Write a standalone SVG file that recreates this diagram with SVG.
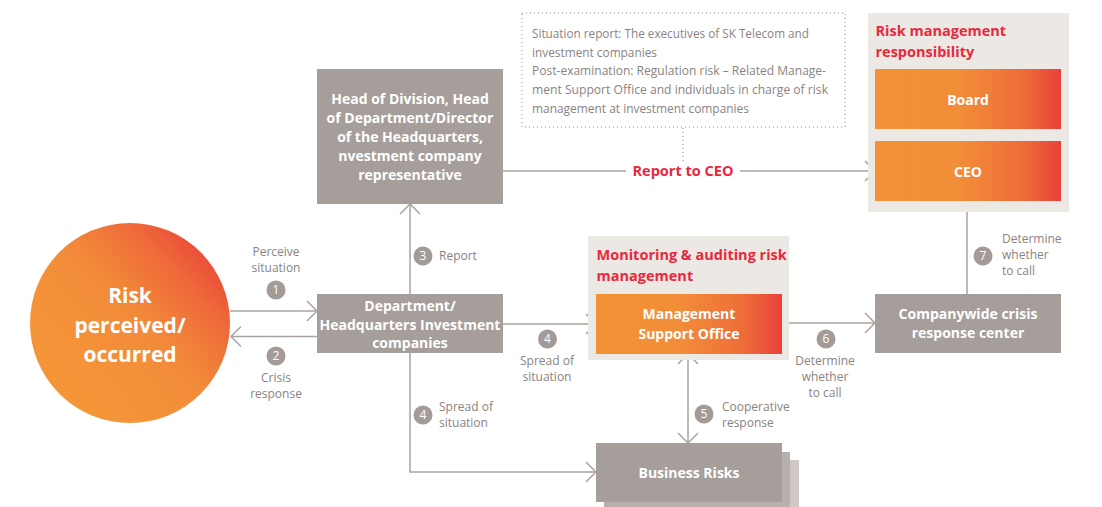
<svg xmlns="http://www.w3.org/2000/svg" width="1102" height="507" viewBox="0 0 1102 507">
<style>
.box{fill:#a59e9a}
.panel{fill:#ece8e4}
.bt{font-family:"Open Sans","Liberation Sans",sans-serif;font-weight:700;font-size:14px;fill:#fff;text-anchor:middle}
.rt{font-family:"Open Sans","Liberation Sans",sans-serif;font-weight:700;font-size:14.5px;fill:#e8283d}
.lb{font-family:"Open Sans","Liberation Sans",sans-serif;font-size:12px;fill:#8a8381}
.mid{text-anchor:middle}
.num{fill:#a39b97}
.nt{font-family:"Open Sans","Liberation Sans",sans-serif;font-size:12px;fill:#fff;text-anchor:middle}
.ln{fill:none;stroke:#aaa3a0;stroke-width:1.5}
.note{font-family:"Open Sans","Liberation Sans",sans-serif;font-size:12px;fill:#8a8381}
</style>
<defs>
<linearGradient id="og" x1="0" y1="0" x2="1" y2="0">
<stop offset="0" stop-color="#f39237"/>
<stop offset="0.45" stop-color="#f28d38"/>
<stop offset="0.8" stop-color="#ee6c38"/>
<stop offset="1" stop-color="#e8413a"/>
</linearGradient>
<linearGradient id="cg" x1="0.25" y1="0.8" x2="0.95" y2="0.15">
<stop offset="0" stop-color="#f5953a"/>
<stop offset="0.45" stop-color="#f28b39"/>
<stop offset="0.75" stop-color="#ef6b39"/>
<stop offset="1" stop-color="#e8453a"/>
</linearGradient>
<marker id="ar" markerUnits="userSpaceOnUse" viewBox="0 0 12 22" refX="11" refY="11" markerWidth="12" markerHeight="22" orient="auto-start-reverse">
<path d="M1,1 L11,11 L1,21" fill="none" stroke="#aaa3a0" stroke-width="1.5"/>
</marker>
</defs>
<rect width="1102" height="507" fill="#fff"/>

<g id="connectors">
<path class="ln" d="M230,311 H317" marker-end="url(#ar)"/>
<path class="ln" d="M317,336.5 H231" marker-end="url(#ar)"/>
<path class="ln" d="M410,294 V204" marker-end="url(#ar)"/>
<path class="ln" d="M503,324 H596" marker-end="url(#ar)"/>
<path class="ln" d="M410,353 V472 H596" marker-end="url(#ar)"/>
<path class="ln" d="M688,354 V443" marker-start="url(#ar)" marker-end="url(#ar)"/>
<path class="ln" d="M782,323 H875" marker-end="url(#ar)"/>
<path class="ln" d="M967,294 V201" marker-end="url(#ar)"/>
<path class="ln" d="M503,171 H626"/>
<path class="ln" d="M740,171 H875" marker-end="url(#ar)"/>
<path d="M683,128 V163" fill="none" stroke="#8f8885" stroke-width="1" stroke-dasharray="1 3"/>
<text class="rt mid" x="683" y="176">Report to CEO</text>
</g>

<g id="note">
<rect x="522" y="13" width="323" height="114" fill="none" stroke="#8f8885" stroke-width="1" stroke-dasharray="1 3"/>
<text class="note" x="532" y="38" textLength="277" lengthAdjust="spacingAndGlyphs">Situation report: The executives of SK Telecom and</text>
<text class="note" x="532" y="57" textLength="125" lengthAdjust="spacingAndGlyphs">investment companies</text>
<text class="note" x="532" y="75" textLength="294" lengthAdjust="spacingAndGlyphs">Post-examination: Regulation risk – Related Manage-</text>
<text class="note" x="532" y="94" textLength="296" lengthAdjust="spacingAndGlyphs">ment Support Office and individuals in charge of risk</text>
<text class="note" x="532" y="113" textLength="217" lengthAdjust="spacingAndGlyphs">management at investment companies</text>
</g>

<g id="risk">
<circle cx="130" cy="323" r="100" fill="url(#cg)"/>
<text class="bt" font-size="21" style="font-size:21px" x="130" y="303">Risk</text>
<text class="bt" style="font-size:21px" x="130" y="333">perceived/</text>
<text class="bt" style="font-size:21px" x="130" y="362">occurred</text>
</g>

<g id="head">
<rect class="box" x="317" y="69" width="186" height="135"/>
<text class="bt" x="410" y="104">Head of Division, Head</text>
<text class="bt" x="410" y="123">of Department/Director</text>
<text class="bt" x="410" y="142">of the Headquarters,</text>
<text class="bt" x="410" y="161">nvestment company</text>
<text class="bt" x="410" y="180">representative</text>
</g>

<g id="dept">
<rect class="box" x="317" y="294" width="186" height="59"/>
<text class="bt" x="410" y="310.5">Department/</text>
<text class="bt" x="410" y="329.5">Headquarters Investment</text>
<text class="bt" x="410" y="348">companies</text>
</g>

<g id="responsibility">
<rect class="panel" x="868" y="13" width="201" height="199"/>
<text class="rt" x="875.5" y="36">Risk management</text>
<text class="rt" x="875.5" y="57">responsibility</text>
</g>

<g id="board">
<rect x="875" y="69" width="186" height="60" fill="url(#og)"/>
<text class="bt" x="968" y="104.5">Board</text>
</g>

<g id="ceo">
<rect x="875" y="141" width="186" height="60" fill="url(#og)"/>
<text class="bt" x="968" y="176.5">CEO</text>
</g>

<g id="monitoring">
<rect class="panel" x="588" y="236" width="201" height="124"/>
<text class="rt" x="596.5" y="260">Monitoring &amp; auditing risk</text>
<text class="rt" x="596.5" y="281">management</text>
</g>

<g id="mso">
<rect x="596" y="294" width="186" height="60" fill="url(#og)"/>
<text class="bt" x="689" y="319">Management</text>
<text class="bt" x="689" y="338.5">Support Office</text>
</g>

<g id="crisis-center">
<rect class="box" x="875" y="294" width="186" height="59"/>
<text class="bt" x="968" y="319">Companywide crisis</text>
<text class="bt" x="968" y="338">response center</text>
</g>

<g id="business">
<rect x="612" y="460" width="187" height="50" fill="#d0cac7"/>
<rect x="604" y="452" width="186" height="58" fill="#b8b0ac"/>
<rect class="box" x="596" y="443" width="186" height="59"/>
<text class="bt" x="689" y="478">Business Risks</text>
</g>

<g id="labels">
<text class="lb mid" x="276" y="256">Perceive</text>
<text class="lb mid" x="276" y="272">situation</text>
<circle class="num" cx="276" cy="290" r="9.5"/><text class="nt" x="276" y="294.3">1</text>

<circle class="num" cx="276" cy="356" r="9.5"/><text class="nt" x="276" y="360.3">2</text>
<text class="lb mid" x="276" y="382">Crisis</text>
<text class="lb mid" x="276" y="398">response</text>

<circle class="num" cx="423" cy="256" r="9.5"/><text class="nt" x="423" y="260.3">3</text>
<text class="lb" x="439" y="260">Report</text>

<circle class="num" cx="423" cy="415" r="9.5"/><text class="nt" x="423" y="419.3">4</text>
<text class="lb" x="439" y="411">Spread of</text>
<text class="lb" x="439" y="427">situation</text>

<circle class="num" cx="547.5" cy="339" r="9.5"/><text class="nt" x="547.5" y="343.3">4</text>
<text class="lb mid" x="547" y="365">Spread of</text>
<text class="lb mid" x="547" y="381">situation</text>

<circle class="num" cx="704" cy="414" r="9.5"/><text class="nt" x="704" y="418.3">5</text>
<text class="lb" x="722" y="411">Cooperative</text>
<text class="lb" x="722" y="427">response</text>

<circle class="num" cx="826" cy="339" r="9.5"/><text class="nt" x="826" y="343.3">6</text>
<text class="lb mid" x="825" y="365">Determine</text>
<text class="lb mid" x="825" y="381">whether</text>
<text class="lb mid" x="825" y="397">to call</text>

<circle class="num" cx="983" cy="256" r="9.5"/><text class="nt" x="983" y="260.3">7</text>
<text class="lb" x="1002" y="243">Determine</text>
<text class="lb" x="1002" y="259">whether</text>
<text class="lb" x="1002" y="275">to call</text>
</g>
</svg>
